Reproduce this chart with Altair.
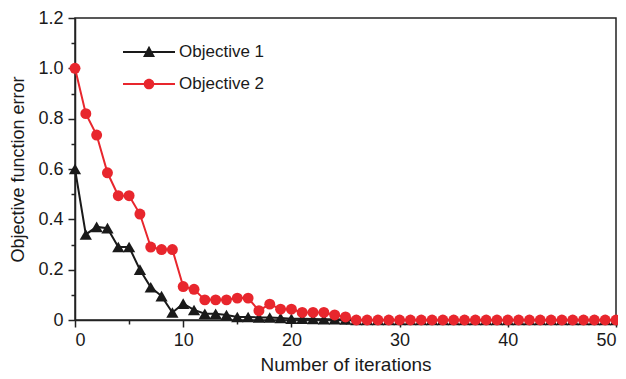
import altair as alt
import pandas as pd

iterations = list(range(51))
obj1 = [0.60, 0.34, 0.37, 0.365, 0.29, 0.29, 0.20, 0.13, 0.095, 0.03,
        0.065, 0.04, 0.025, 0.025, 0.02, 0.012, 0.012, 0.01, 0.01, 0.008,
        0.005, 0.005, 0.004, 0.003, 0.003, 0.002] + [0.0] * 25
obj2 = [1.0, 0.82, 0.735, 0.585, 0.494, 0.494, 0.421, 0.29, 0.28, 0.28,
        0.133, 0.122, 0.08, 0.08, 0.08, 0.087, 0.087, 0.037, 0.063, 0.043,
        0.043, 0.03, 0.03, 0.03, 0.02, 0.012] + [0.0] * 25
series_names = ["Objective 1", "Objective 2"]
series_colors = ["#1a1a1a", "#e8262d"]
x_ticks = [0, 10, 20, 30, 40, 50]
x_minor = [5, 15, 25, 35, 45]
y_ticks = [0, 0.2, 0.4, 0.6, 0.8, 1.0, 1.2]
y_minor = [0.1, 0.3, 0.5, 0.7, 0.9, 1.1]

df = pd.DataFrame({
    "x": iterations * 2,
    "y": obj1 + obj2,
    "series": [series_names[0]] * len(obj1) + [series_names[1]] * len(obj2),
})

FONT = "Liberation Sans"

xscale = alt.Scale(domain=[0, 50], nice=False, zero=False)
yscale = alt.Scale(domain=[0, 1.2], nice=False)

Xn = alt.X("x:Q", scale=xscale, axis=None)
Yn = alt.Y("y:Q", scale=yscale, axis=None)

base = alt.Chart(df)

layers = []
shapes_mark = ["triangle-up", "circle"]
sizes = [150, 120]
for name, col, shp, sz in zip(series_names, series_colors, shapes_mark, sizes):
    sub = base.transform_filter(alt.datum.series == name)
    layers.append(sub.mark_line(color=col, strokeWidth=2).encode(x=Xn, y=Yn))
    layers.append(sub.mark_point(color=col, shape=shp, filled=True, size=sz, opacity=1).encode(x=Xn, y=Yn))

# minor ticks
minor = base.transform_filter(alt.datum.x < 0).mark_point().encode(
    x=alt.X("x:Q", scale=xscale, axis=alt.Axis(values=x_minor, labels=False, domain=False,
                                                 grid=False, tickSize=4, title=None, orient="bottom")),
    y=alt.Y("y:Q", scale=yscale, axis=alt.Axis(values=y_minor, labels=False, domain=False,
                                                 grid=False, tickSize=4, title=None, orient="left")),
)

# legend symbols: a line segment with the marker in its middle (unit = sqrt(size)/2 px)
tri_path = "M-2.6,-0.1H2.6V0.1H-2.6Z M0,-0.62L0.6,0.5L-0.6,0.5Z"
cir_path = "M-2.6,-0.1H2.6V0.1H-2.6Z M0.53,0A0.53,0.53,0,1,1,-0.53,0A0.53,0.53,0,1,1,0.53,0Z"

xaxis = alt.Axis(values=x_ticks, title="Number of iterations", grid=False, orient="bottom",
                 tickSize=7, labelPadding=4, titlePadding=6, format="d")
yaxis = alt.Axis(values=y_ticks, title="Objective function error", grid=False, orient="left",
                 tickSize=7, labelPadding=5, titlePadding=10, titleFontSize=18,
                 labelExpr="datum.value == 0 ? '0' : format(datum.value, '.1f')")

legend_layer = base.transform_filter(alt.datum.x < 0).mark_point(filled=True, opacity=1).encode(
    x=alt.X("x:Q", scale=xscale, axis=xaxis),
    y=alt.Y("y:Q", scale=yscale, axis=yaxis),
    color=alt.Color("series:N", scale=alt.Scale(domain=series_names, range=series_colors),
                    legend=alt.Legend(title=None, orient="none", legendX=64, legendY=24,
                                      symbolSize=400, labelFontSize=17, labelFont=FONT,
                                      labelColor="#1a1a1a", rowPadding=14, labelOffset=20,
                                      symbolOpacity=1, symbolStrokeWidth=0)),
    shape=alt.Shape("series:N", scale=alt.Scale(domain=series_names, range=[tri_path, cir_path])),
)

chart = alt.layer(*layers, minor, legend_layer).resolve_axis(x="independent", y="independent").properties(
    width=541, height=302,
    autosize=alt.AutoSizeParams(type="none"),
    padding={"left": 67, "top": 10, "right": 2, "bottom": 54},
).configure_axis(
    labelFont=FONT, titleFont=FONT, labelFontSize=18, titleFontSize=19,
    labelColor="#1a1a1a", titleColor="#1a1a1a", titleFontWeight="normal",
    domainColor="#222", tickColor="#222", domainWidth=1.5, tickWidth=1.5,
).configure_view(stroke="#222", strokeWidth=1.5)

chart.save("out.html", embed_options={"renderer": "svg", "actions": False})
